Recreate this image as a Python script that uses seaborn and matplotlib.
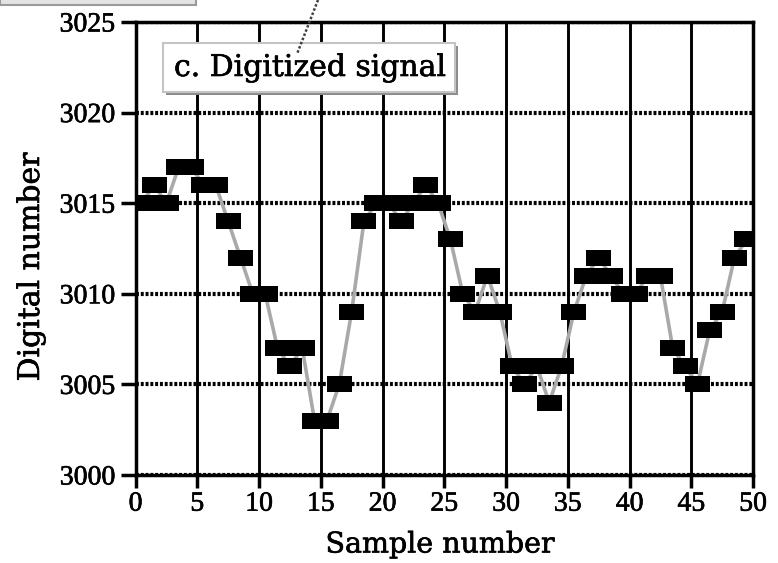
import numpy as np
import pandas as pd
import seaborn as sns
import matplotlib.pyplot as plt
import matplotlib.patheffects as pe
from matplotlib.patches import Rectangle
from matplotlib.lines import Line2D

# Quantized ADC output, one value per sample
sample_number = np.arange(50)
digital_number = [
    3015, 3016, 3015, 3017, 3017, 3016, 3016, 3014, 3012, 3010,
    3010, 3007, 3006, 3007, 3003, 3003, 3005, 3009, 3014, 3015,
    3015, 3014, 3015, 3016, 3015, 3013, 3010, 3009, 3011, 3009,
    3006, 3005, 3006, 3004, 3006, 3009, 3011, 3012, 3011, 3010,
    3010, 3011, 3011, 3007, 3006, 3005, 3008, 3009, 3012, 3013,
]
x_ticks = [0, 5, 10, 15, 20, 25, 30, 35, 40, 45, 50]
y_ticks = [3000, 3005, 3010, 3015, 3020, 3025]
panel_title = "c. Digitized signal"
x_label = "Sample number"
y_label = "Digital number"

sns.set_theme(style="white")
plt.rcParams["font.family"] = ["DejaVu Serif"]

W, H = 778, 563
fig = plt.figure(figsize=(W / 100, H / 100), dpi=100)
ax = fig.add_axes([135.5 / W, 1 - 475 / H, (753 - 135.5) / W, (475 - 22) / H])

# each sample sits in the middle of its interval
df = pd.DataFrame({"position": sample_number + 0.5, "value": digital_number})

sns.lineplot(data=df, x="position", y="value", color="#a9a9a9", lw=2.6,
             ax=ax, zorder=3)
rect_marker = [(-1, -0.64), (1, -0.64), (1, 0.64), (-1, 0.64)]
sns.scatterplot(data=df, x="position", y="value", marker=rect_marker, s=324,
                color="black", edgecolor="none", linewidth=0, ax=ax, zorder=4)

ax.set_xlim(x_ticks[0], x_ticks[-1])
ax.set_ylim(y_ticks[0], y_ticks[-1])
ax.set_xticks(x_ticks)
ax.set_yticks(y_ticks)

# grid: solid verticals, dotted horizontals
ax.set_axisbelow(True)
ax.xaxis.grid(True, color="black", lw=2.1, ls="-")
ax.yaxis.grid(True, color="black", lw=3.0, ls=(0, (0.7, 0.45)))

for sp in ax.spines.values():
    sp.set_visible(True)
    sp.set_color("black")
    sp.set_linewidth(2.5)

# slightly heavier strokes for all printed text
heavy = [pe.withStroke(linewidth=0.45, foreground="black")]

ax.tick_params(axis="both", which="major", direction="out", width=2.5,
               color="black", labelcolor="black")
ax.tick_params(axis="y", length=10.8, pad=4, left=True)
ax.tick_params(axis="x", length=9.0, pad=3, bottom=True)
for lab in ax.get_xticklabels() + ax.get_yticklabels():
    lab.set_fontfamily("Liberation Serif")
    lab.set_fontsize(20)
    lab.set_path_effects(heavy)

ax.set_xlabel(x_label, fontsize=20.5, color="black", va="center",
              path_effects=heavy)
ax.set_ylabel(y_label, fontsize=21.5, color="black", va="center",
              path_effects=heavy)
ax.xaxis.set_label_coords(0.493, (475 - 545) / 453)
ax.yaxis.set_label_coords((31 - 135.5) / 617.5, (475 - 267) / 453)


def px_rect(x0, y0, x1, y1, **kw):
    return Rectangle((x0 / W, 1 - y1 / H), (x1 - x0) / W, (y1 - y0) / H,
                     transform=fig.transFigure, **kw)


# strip of the neighbouring panel above
fig.add_artist(px_rect(0, -2, 196, 5, facecolor="#e4e4e4",
                       edgecolor="#9a9a9a", lw=1.5, zorder=5))

# title box with a soft drop shadow
fig.add_artist(px_rect(166, 46, 458, 95, facecolor="#8c8c8c",
                       edgecolor="none", zorder=6))
fig.add_artist(px_rect(163, 43, 455, 92, facecolor="white",
                       edgecolor="#c4c4c4", lw=1.5, zorder=7))
fig.text(174 / W, 1 - 68 / H, panel_title, fontsize=21.5, color="black",
         ha="left", va="center", zorder=8, path_effects=heavy)

# pointer line coming down from the panel above
fig.add_artist(Line2D([318 / W, 297 / W], [1.0, 1 - 54 / H],
                      transform=fig.transFigure, color="#404040", lw=1.8,
                      ls=(0, (1, 0.8)), zorder=9))

fig.savefig("out.png", dpi=100)
